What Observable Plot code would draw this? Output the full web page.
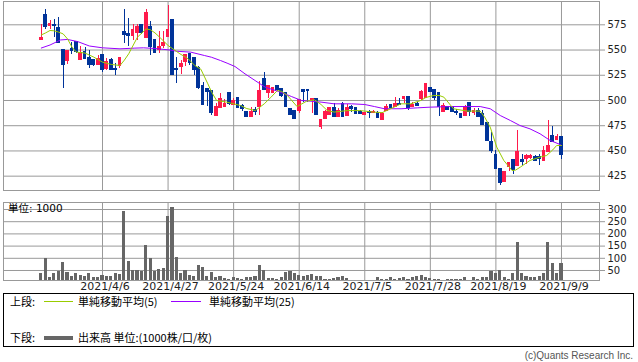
<!DOCTYPE html>
<html><head><meta charset="utf-8">
<script src="https://cdn.jsdelivr.net/npm/d3@7"></script>
<script src="https://cdn.jsdelivr.net/npm/@observablehq/plot@0.6"></script>
<style>
body{margin:0;background:#fff;}
#wrap{position:relative;width:638px;height:362px;overflow:hidden;font-family:"DejaVu Sans","Noto Sans CJK JP",sans-serif;}
#price,#volume{position:absolute;left:0;}
#price{top:0px} #volume{top:192px}
.t{position:absolute;white-space:nowrap;font-size:11px;line-height:13px;color:#000;font-family:"Noto Sans CJK JP","DejaVu Sans",sans-serif;}
.ln{position:absolute;height:0;}
#legend{position:absolute;left:3px;top:293px;width:631px;height:54px;border:1px solid #000;box-sizing:border-box;}
#unit{position:absolute;left:8px;top:202px;font-size:10.5px;line-height:12px;color:#000;font-family:"DejaVu Sans","Noto Sans CJK JP",sans-serif;}
#copy{position:absolute;right:5px;top:350px;font-family:"Liberation Sans",Arial,sans-serif;font-size:10px;line-height:12px;color:#555;}
</style></head>
<body>
<div id="wrap">
  <div id="price"></div>
  <div id="volume"></div>
  <div id="unit">単位: 1000</div>
  <div id="legend"></div>
  <div class="t" style="left:10px;top:295px;">上段:</div>
  <div class="ln" style="left:44px;width:29px;top:301px;border-top:1px solid #99cc00;"></div>
  <div class="t" style="left:78px;top:295px;">単純移動平均(5)</div>
  <div class="ln" style="left:171px;width:30px;top:301px;border-top:1px solid #9900ff;"></div>
  <div class="t" style="left:209px;top:295px;">単純移動平均(25)</div>
  <div class="t" style="left:10px;top:331px;">下段:</div>
  <div class="ln" style="left:44px;width:29px;top:336px;border-top:4px solid #666;"></div>
  <div class="t" style="left:78px;top:331px;">出来高 単位:(1000株/口/枚)</div>
  <div id="copy">(c)Quants Research Inc.</div>
</div>
<script>
// ---- data (bar index 0 = 2021/3/17 ... 119 = 2021/9/9) ----
const opens = [560,585,574,575,572,550,539,551,558,540, 548,542,540,535,545,531,540,531,534,568,
  566,564,567,575,562,573,560,550,554,563, 580,531,533,538,546,542,532,514,511,509,
  485,493,494,507,496,502,495,489,484,491, 494,521,507,507,514,511,507,492,490,490,
  510,510,500,501,474,482,486,493,484,497, 485,494,493,489,486,489,488,488,481,490,
  496,494,497,501,503,494,497,501,502,512, 510,507,489,494,494,489,487,485,498,488,
  490,487,478,459,446,432,419,434,441,435, 441,442,443,444,444,440,449,465,461,464];
const highs = [575,590,579,580,582,550,549,557,558,554, 553,550,540,545,545,542,542,537,543,590,
  581,575,575,575,590,578,560,568,568,594, 580,543,540,546,547,542,534,518,512,509,
  497,507,501,507,502,502,496,489,493,493, 519,528,515,513,514,511,507,492,490,500,
  511,511,502,502,481,490,493,497,492,498, 496,495,493,490,488,490,490,489,488,496,
  496,503,502,503,503,498,498,510,516,513, 510,507,497,494,494,491,487,495,498,492,
  492,490,478,468,450,432,429,438,441,470, 446,446,446,445,446,454,480,474,466,464];
const lows = [559,570,570,562,557,512,536,546,547,540, 541,532,534,535,528,530,530,525,532,556,
  554,559,559,565,561,545,547,547,552,562, 525,517,526,534,535,525,511,495,494,485,
  485,493,494,495,496,492,489,483,483,485, 485,510,502,507,509,503,494,485,482,487,
  498,498,487,486,471,482,486,484,484,484, 485,488,486,486,485,482,487,483,481,489,
  493,494,496,497,490,493,494,500,502,508, 500,484,489,491,489,485,483,485,484,485,
  484,475,460,447,432,416,419,430,427,435, 436,437,442,440,436,440,449,459,460,442];
const closes = [562,573,576,574,557,535,549,549,548,547, 541,535,535,541,530,538,530,530,542,565,
  564,570,573,567,587,553,547,553,557,570, 525,530,536,545,537,530,512,496,508,488,
  494,501,497,497,499,493,492,484,489,489, 509,510,514,512,510,504,494,486,482,500,
  508,509,501,486,481,489,493,484,490,484, 493,492,487,487,488,488,489,483,487,494,
  493,497,496,503,493,496,495,508,516,508, 502,494,495,491,489,488,483,494,489,490,
  484,476,460,450,432,418,429,438,431,449, 439,445,445,440,442,450,455,459,464,446];
const volumes = [36,100,20,38,47,83,42,25,36,30, 27,36,23,23,30,27,27,36,32,292,
  87,50,50,47,152,100,47,54,60,273, 310,102,39,50,30,25,70,64,25,43,
  20,25,16,12,20,16,12,20,20,25, 70,50,16,16,12,20,40,46,36,30,
  25,31,34,27,25,12,12,16,20,25, 16,8,10,10,10,8,8,20,14,14,
  20,14,16,20,14,20,27,30,23,16, 14,12,10,14,14,14,14,23,10,20,
  12,20,20,47,36,50,20,12,36,163, 36,27,20,20,27,36,163,77,36,77];
// moving averages: [bar index, value]
const ma5 = [[0,565],[1,567],[2,569.4],[3,569],[4,567.7],[5,566],[6,561],[7,553],[8,548],[10,547],[12,543],[14,538],
  [16,535.7],[18,534.7],[19,540],[20,546.3],[22,562.8],[24,571],[25,570],[26,567],[27,563],[29,554.5],[31.7,546.3],
  [33.6,541.3],[35.1,534.7],[36.5,531],[38.1,516.5],[39,508],[40.1,500],[42.4,498.4],[45.6,495],[47,492],[49,490.1],
  [51,496.7],[52.5,503],[54,509.9],[55,509],[56.3,505],[58.5,494],[60.7,499.3],[62.5,500.7],[64,496],[65.4,490.1],
  [67,488.5],[70,490],[73,490],[76,488.5],[78,488],[79,490],[81,494],[82.3,496.7],[84.5,496.7],[86.8,500],[88,503],
  [89.8,505],[91,505],[92.1,503.3],[94.3,491.8],[97.4,489.5],[100.4,489.5],[101.5,483],[102.7,473.6],[104.2,453.8],
  [105.8,440.6],[107.7,430.6],[108.5,431],[109.6,434],[111.8,440.6],[114.1,443.9],[115.6,445.5],[117,451],[117.9,455.4],[119,455.4]];
const ma25 = [[0,552],[2,555],[4.4,560],[6,560.5],[8.3,558.4],[11,554],[14,552.2],[18,551.2],[21.4,551.9],[23.4,552.2],
  [26,551.5],[29.5,550],[31,548.8],[34.2,547.9],[37.3,544.6],[38.9,542.9],[41,539.6],[42.5,537],[44.3,533.7],[46.6,526.4],
  [48.9,519.8],[51.2,513.2],[54.3,508.9],[57.2,504],[59.5,500],[61.7,499.3],[64,498.4],[67,496.7],[71,496.7],[74,496],
  [76.2,494],[78.5,491.8],[82.3,491.8],[86,492.7],[89,493.4],[93.6,494],[100.4,494],[102.7,491.8],[105,485.1],
  [107.3,480.2],[109.5,475.2],[111.8,471.9],[114.1,467],[116.4,460.4],[118.7,456.4],[119,455.4]];
const priceTicks = [425,450,475,500,525,550,575];
const volumeTicks = [50,100,150,200,250,300];
const dateTickIndex = [14,29,44,59,74,89,104,119];
const dateTickLabels = ["2021/4/6","2021/4/27","2021/5/24","2021/6/14","2021/7/5","2021/7/28","2021/8/19","2021/9/9"];

const RED = "#ff1a4b", BLUE = "#003399", GRID = "#999";
const candles = opens.map((o, i) => ({i, open: o, high: highs[i], low: lows[i], close: closes[i]}));
const vols = volumes.map((v, i) => ({i, v}));
const xDomain = [-8.65, 127.7];
const labelOf = new Map(dateTickIndex.map((d, k) => [d, dateTickLabels[k]]));
const col = d => d.close >= d.open ? RED : BLUE;

const price = Plot.plot({
  width: 638, height: 192,
  marginTop: 1, marginBottom: 2, marginLeft: 3, marginRight: 39,
  style: {background: "transparent", fontFamily: "DejaVu Sans", fontSize: "10px"},
  x: {domain: xDomain, axis: null, label: null},
  y: {domain: [410.8, 598.1], axis: null, label: null},
  marks: [
    Plot.gridY(priceTicks, {stroke: GRID, strokeOpacity: 1}),
    Plot.gridX(dateTickIndex, {stroke: GRID, strokeOpacity: 1}),
    Plot.axisY(priceTicks, {anchor: "right", label: null, tickSize: 5, tickPadding: 3, stroke: GRID, fill: "#222", fontSize: 10}),
    Plot.ruleX(candles, {x: "i", y1: "low", y2: "high", stroke: col, strokeWidth: 1, shapeRendering: "crispEdges"}),
    Plot.rect(candles, {x1: d => d.i - 0.43, x2: d => d.i + 0.43, y1: "open", y2: "close", fill: col,
      insetTop: -0.5, insetBottom: -0.5, shapeRendering: "crispEdges"}),
    Plot.line(ma25, {x: d => d[0], y: d => d[1], stroke: "#9900ff", strokeWidth: 1}),
    Plot.line(ma5, {x: d => d[0], y: d => d[1], stroke: "#99cc00", strokeWidth: 1}),
    Plot.frame({stroke: GRID})
  ]
});
document.getElementById("price").appendChild(price);

const volume = Plot.plot({
  width: 638, height: 104,
  marginTop: 10, marginBottom: 16, marginLeft: 3, marginRight: 39,
  style: {background: "transparent", fontFamily: "DejaVu Sans", fontSize: "10px"},
  x: {domain: xDomain, axis: null, label: null},
  y: {domain: [9, 328.7], axis: null, label: null},
  marks: [
    Plot.gridY(volumeTicks, {stroke: GRID, strokeOpacity: 1}),
    Plot.gridX(dateTickIndex, {stroke: GRID, strokeOpacity: 1}),
    Plot.axisY(volumeTicks, {anchor: "right", label: null, tickSize: 5, tickPadding: 3, stroke: GRID, fill: "#222", fontSize: 10}),
    Plot.axisX(dateTickIndex, {anchor: "bottom", label: null, tickSize: 0, tickPadding: 2, fontSize: 11, fill: "#222", dx: 2.5,
      tickFormat: d => labelOf.get(d)}),
    Plot.rect(vols, {x1: d => d.i - 0.36, x2: d => d.i + 0.36, y1: 0, y2: "v", fill: "#666", clip: true, shapeRendering: "crispEdges"}),
    Plot.frame({stroke: GRID})
  ]
});
document.getElementById("volume").appendChild(volume);
</script>
</body></html>
